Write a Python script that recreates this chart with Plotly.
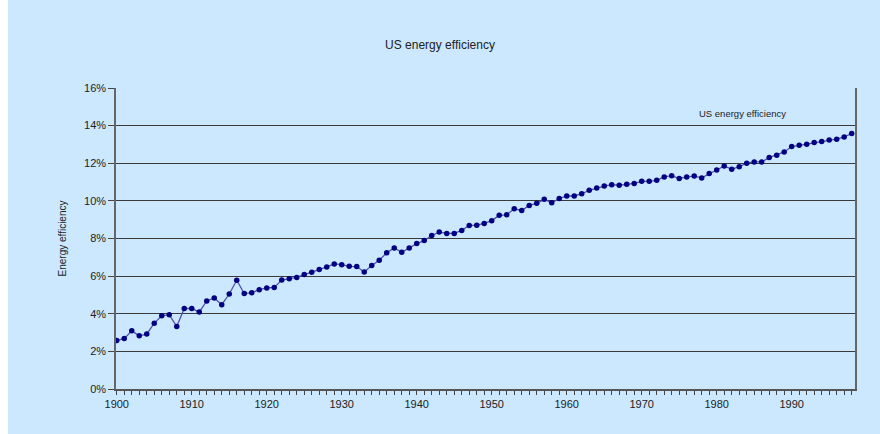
import plotly.graph_objects as go

years = list(range(1900, 1999))
efficiency = [
    2.58, 2.68, 3.09, 2.83, 2.92, 3.50, 3.89, 3.95, 3.32, 4.28,
    4.28, 4.09, 4.68, 4.84, 4.48, 5.05, 5.78, 5.07, 5.12, 5.28,
    5.37, 5.40, 5.79, 5.86, 5.93, 6.08, 6.20, 6.35, 6.49, 6.65,
    6.61, 6.52, 6.51, 6.22, 6.56, 6.84, 7.24, 7.50, 7.27, 7.50,
    7.73, 7.89, 8.16, 8.34, 8.27, 8.27, 8.43, 8.69, 8.71, 8.80,
    8.95, 9.23, 9.26, 9.58, 9.49, 9.76, 9.87, 10.08, 9.90, 10.12,
    10.26, 10.26, 10.38, 10.56, 10.68, 10.79, 10.86, 10.83, 10.88, 10.93,
    11.04, 11.04, 11.09, 11.27, 11.34, 11.19, 11.27, 11.32, 11.22, 11.45,
    11.64, 11.86, 11.68, 11.82, 12.00, 12.07, 12.07, 12.30, 12.43, 12.60,
    12.89, 12.96, 13.01, 13.10, 13.16, 13.23, 13.28, 13.40, 13.58,
]
series_name = "US energy efficiency"
chart_title = "US energy efficiency"
y_title = "Energy efficiency"
x_tick_years = list(range(1900, 2000, 10))
y_ticks = list(range(0, 17, 2))

BG = "#CCE8FF"

fig = go.Figure()
fig.add_trace(go.Scatter(
    x=years, y=efficiency, mode="lines+markers", name=series_name,
    line=dict(color="#5050b0", width=1.3),
    marker=dict(symbol="circle", size=5.5, color="#000080"),
    showlegend=False,
))

L, R, T, B = 116, 25, 88, 45
W, H = 880, 434
pw = W - L - R
ph = H - T - B

fig.update_layout(
    width=W, height=H,
    margin=dict(l=L, r=R, t=T, b=B, pad=0),
    paper_bgcolor="white",
    plot_bgcolor=BG,
    font=dict(family="Liberation Sans, Arial, sans-serif", color="#222222", size=11),
    title=dict(text=chart_title, x=0.5, xref="container", xanchor="center",
               y=1 - 45 / H, yref="container", yanchor="middle",
               font=dict(size=12, color="#222222")),
    shapes=[dict(type="rect", xref="paper", yref="paper", layer="below",
                 x0=(8 - L) / pw, x1=(W - L) / pw + 0.01,
                 y0=-B / ph - 0.01, y1=(H - B) / ph + 0.01,
                 fillcolor=BG, line=dict(width=0))],
    annotations=[dict(text=series_name, xref="paper", yref="paper",
                      x=(742 - L) / pw, y=(H - B - 113) / ph,
                      showarrow=False, xanchor="center", yanchor="middle",
                      font=dict(size=9.5, color="#222222"))],
)

fig.update_xaxes(
    range=[1899.9, 1998.44],
    tickmode="array", tickvals=x_tick_years, ticktext=[str(v) for v in x_tick_years],
    ticks="outside", ticklen=4, tickcolor="#444444",
    minor=dict(dtick=1, tick0=1900, ticks="outside", ticklen=4, tickcolor="#444444", showgrid=False),
    showline=True, linecolor="#555555", linewidth=1.5,
    showgrid=False, zeroline=False,
    tickfont=dict(size=11),
)
fig.update_yaxes(
    range=[0, 16],
    tickmode="array", tickvals=y_ticks, ticktext=[f"{v}%" for v in y_ticks],
    ticks="outside", ticklen=6, tickcolor="#444444",
    showline=True, linecolor="#666666", linewidth=1.5, mirror=True,
    showgrid=True, gridcolor="#3a3a3a", gridwidth=1,
    zeroline=False,
    title=dict(text=y_title, font=dict(size=10), standoff=16),
    tickfont=dict(size=11),
)

fig.write_html("out.html",
               config={"displayModeBar": False},
               post_script="document.body.style.margin='0';document.body.style.overflow='hidden';")
